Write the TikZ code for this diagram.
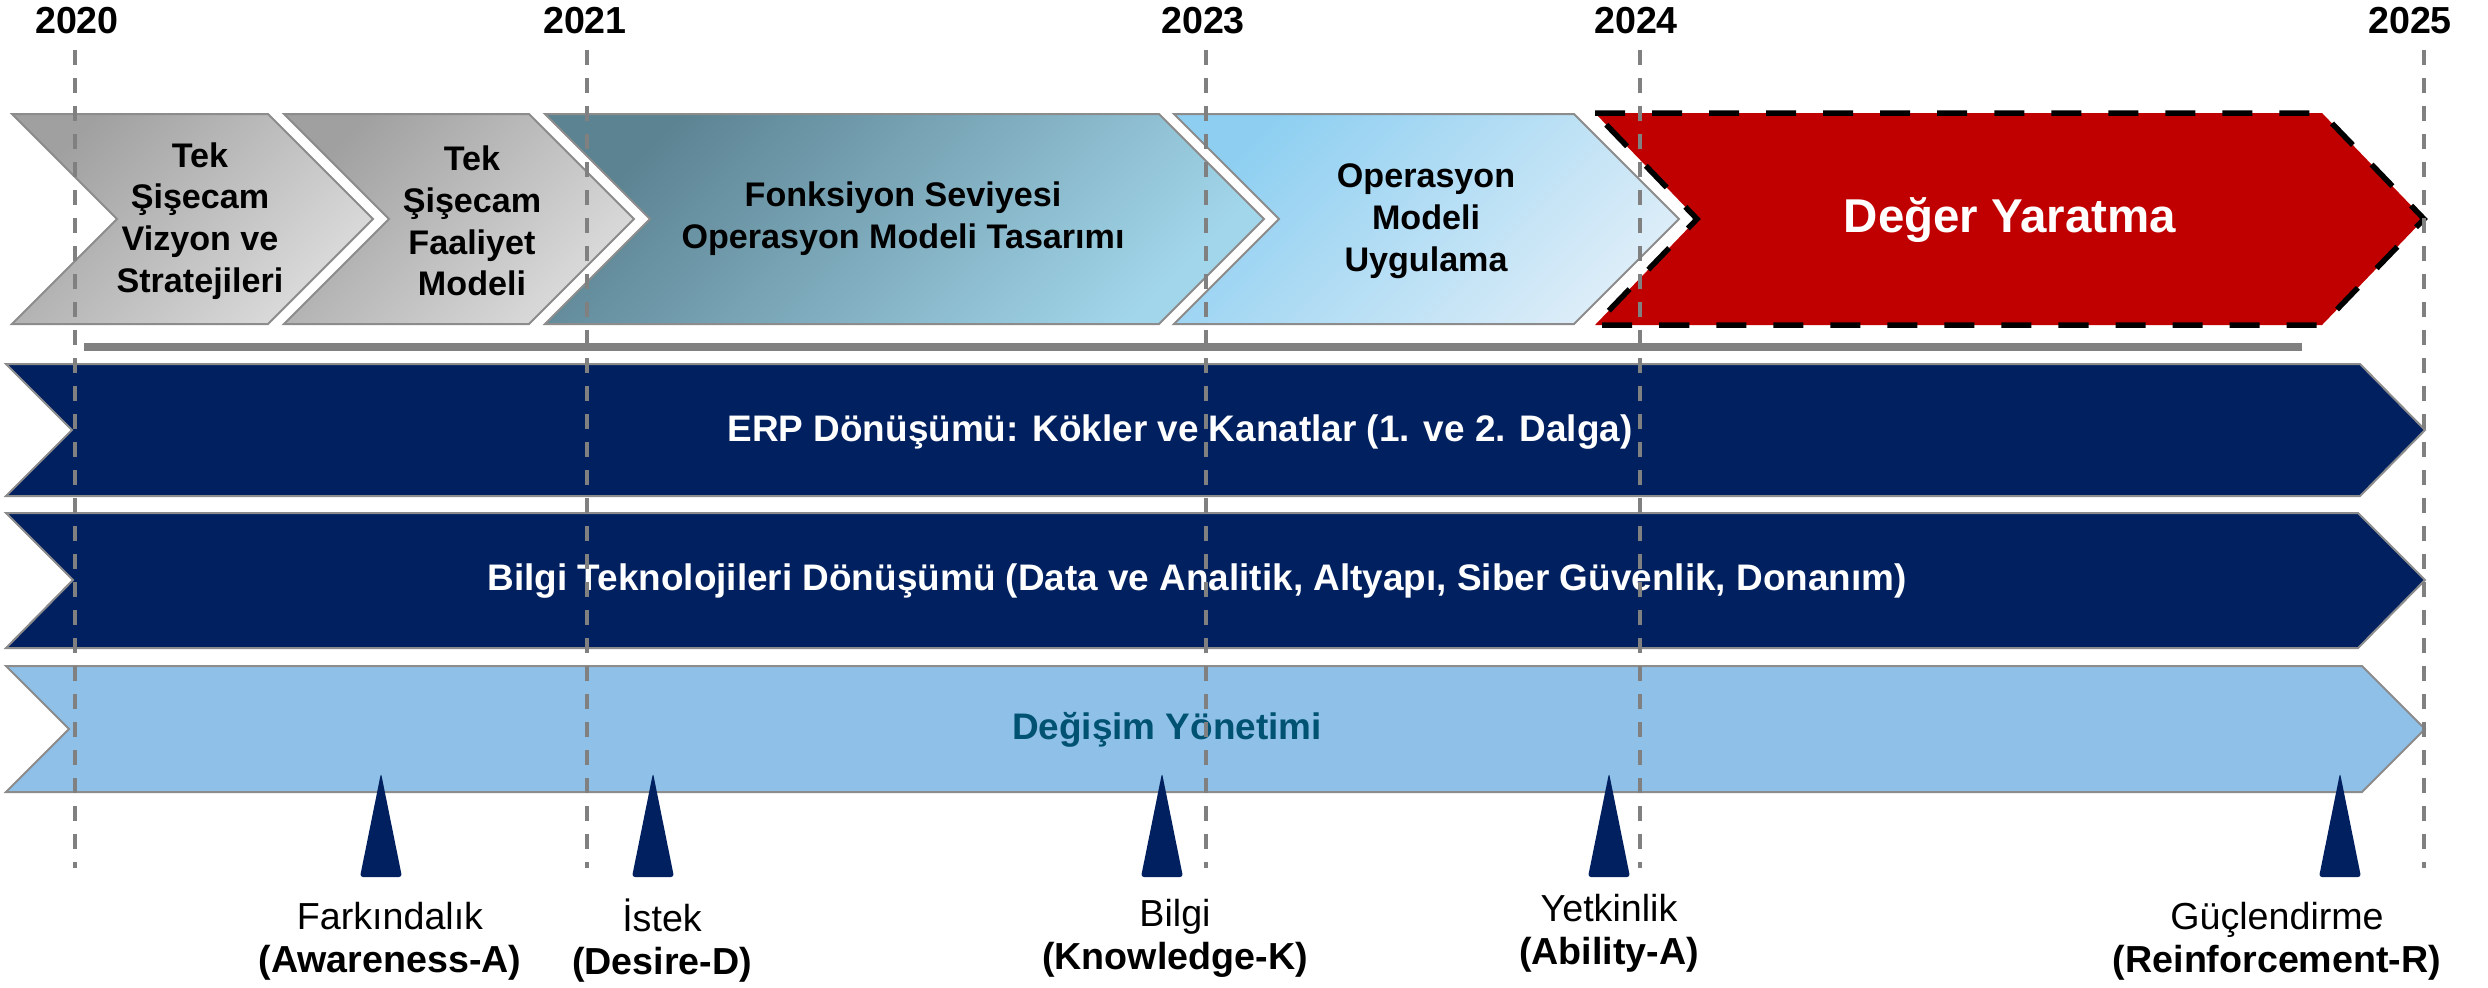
\documentclass[tikz,border=0pt]{standalone}
\usepackage{fontspec}
\setmainfont{Liberation Sans}
\usetikzlibrary{positioning}
\definecolor{NavyBand}{RGB}{0, 32, 96}
\definecolor{SkyBand}{RGB}{142, 192, 232}
\definecolor{TealText}{RGB}{0, 82, 115}
\definecolor{LineGray}{RGB}{128, 128, 128}
\definecolor{EdgeGray}{RGB}{140, 140, 140}
\definecolor{ValueRed}{RGB}{192, 0, 0}
\definecolor{GrayDark}{RGB}{160, 160, 160}
\definecolor{GrayLight}{RGB}{220, 220, 220}
\definecolor{TealDark}{RGB}{92, 131, 146}
\definecolor{TealLight}{RGB}{162, 214, 234}
\definecolor{SkyDark}{RGB}{142, 207, 241}
\definecolor{SkyLight}{RGB}{220, 237, 248}

\tikzset{
  phase/.style={draw=EdgeGray, line width=0.02cm},
  grayphase/.style={phase, top color=GrayDark, bottom color=GrayLight, shading angle=45},
  tealphase/.style={phase, top color=TealDark, bottom color=TealLight, shading angle=45},
  skyphase/.style={phase, top color=SkyDark, bottom color=SkyLight, shading angle=45},
  valuephase/.style={fill=ValueRed, draw=black, line width=0.055cm, dash pattern=on 0.3cm off 0.27cm},
  band/.style={draw=EdgeGray, line width=0.02cm},
  yearline/.style={draw=LineGray, line width=0.045cm, dash pattern=on 0.15cm off 0.13cm},
  marker/.style={fill=NavyBand, rounded corners=0.03cm},
  phasetext/.style={font=\fontsize{9.7}{11.9}\selectfont\bfseries, align=center},
  bandtext/.style={font=\fontsize{10.5}{12}\selectfont\bfseries, text=white},
  yeartext/.style={font=\fontsize{10.7}{12}\selectfont\bfseries},
  steptext/.style={font=\fontsize{10.7}{12.2}\selectfont, align=center}
}

\begin{document}
\begin{tikzpicture}[x=0.01cm, y=-0.01cm]
    \fill[white] (0,0) rectangle (2488,987);
    \useasboundingbox (0,0) rectangle (2488,987);

    % Phase chevrons
    \foreach \lft/\rgt/\sty in {12/268/grayphase, 284/529/grayphase, 545/1159/tealphase, 1174/1574/skyphase} {
      \path[\sty] (\lft,114) -- (\rgt,114) -- (\rgt+105,219) -- (\rgt,324) -- (\lft,324) -- (\lft+105,219) -- cycle;
    }
    \path[valuephase] (1595,113) -- (2322,113) -- (2424,219) -- (2322,325) -- (1595,325) -- (1697,219) -- cycle;

    \node[phasetext] (vizyon) at (200,221) {Tek\\Şişecam\\Vizyon ve\\Stratejileri};
    \node[phasetext] (faaliyet) at (472,221) {Tek\\Şişecam\\Faaliyet\\Modeli};
    \node[phasetext] (tasarim) at (903,219) {Fonksiyon Seviyesi\\Operasyon Modeli Tasarımı};
    \node[phasetext] (uygulama) at (1426,221) {Operasyon\\Modeli\\Uygulama};
    \node[font=\fontsize{13.5}{15}\selectfont\bfseries, text=white] (deger) at (2010,220) {Değer Yaratma};

    % Gray rule
    \draw[LineGray, line width=0.08cm] (84,347) -- (2302,347);

    % Bands
    \path[band, fill=NavyBand] (6,364) -- (2360,364) -- (2425,430) -- (2360,496) -- (6,496) -- (72,430) -- cycle;
    \path[band, fill=NavyBand] (6,513) -- (2358,513) -- (2425,580) -- (2358,648) -- (6,648) -- (73,580) -- cycle;
    \path[band, fill=SkyBand] (6,666) -- (2362,666) -- (2425,729) -- (2362,792) -- (6,792) -- (69,729) -- cycle;

    \node[bandtext] (erp) at (1180,432) {ERP Dönüşümü: Kökler ve Kanatlar (1. ve 2. Dalga)};
    \node[bandtext] (bt) at (1197,581) {Bilgi Teknolojileri Dönüşümü (Data ve Analitik, Altyapı, Siber Güvenlik, Donanım)};
    \node[bandtext, text=TealText] (degisim) at (1167,730) {Değişim Yönetimi};

    % Years
    \foreach \xl/\xt/\yr in {75/77/2020, 587/585/2021, 1206/1203/2023, 1640/1636/2024, 2424/2410/2025} {
      \node[yeartext] (y\yr) at (\xt,21) {\yr};
      \coordinate (top\yr) at (\xl,50);
      \coordinate (bot\yr) at (\xl,868);
      \draw[yearline] (top\yr) -- (bot\yr);
    }

    % ADKAR markers
    \foreach \mx in {381, 653, 1162, 1609, 2340} {
      \fill[marker] (\mx,773) -- (\mx+21,877) -- (\mx-21,877) -- cycle;
    }
    \node[steptext] (aware) at (390,941) {Farkındalık\\\textbf{(Awareness-A)}};
    \node[steptext] (desire) at (662,941) {İstek\\\textbf{(Desire-D)}};
    \node[steptext] (know) at (1175,938) {Bilgi\\\textbf{(Knowledge-K)}};
    \node[steptext] (able) at (1609,933) {Yetkinlik\\\textbf{(Ability-A)}};
    \node[steptext] (reinf) at (2277,941) {Güçlendirme\\\textbf{(Reinforcement-R)}};
  \end{tikzpicture}
\end{document}
